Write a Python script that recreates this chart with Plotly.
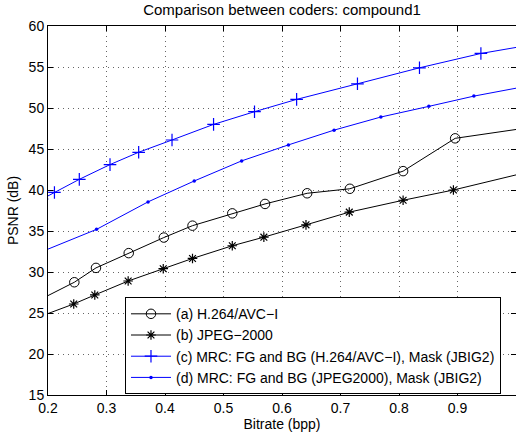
import plotly.graph_objects as go

# (a) H.264/AVC-I
x_a = [0.18, 0.245, 0.282, 0.338, 0.398, 0.447, 0.515, 0.571, 0.643, 0.716, 0.807, 0.896, 1.05]
y_a = [26.4, 28.75, 30.5, 32.3, 34.2, 35.65, 37.15, 38.3, 39.6, 40.15, 42.3, 46.3, 47.9]
# (b) JPEG-2000
x_b = [0.18, 0.244, 0.280, 0.337, 0.397, 0.447, 0.515, 0.569, 0.641, 0.715, 0.807, 0.893, 1.05]
y_b = [24.4, 26.1, 27.2, 28.9, 30.4, 31.65, 33.2, 34.25, 35.75, 37.3, 38.75, 40.0, 42.7]
# (c) MRC H.264 + JBIG2
x_c = [0.19, 0.211, 0.2535, 0.306, 0.355, 0.412, 0.483, 0.553, 0.625, 0.729, 0.835, 0.940, 1.05]
y_c = [38.9, 39.7, 41.3, 43.1, 44.6, 46.1, 48.0, 49.55, 51.05, 52.95, 54.9, 56.65, 58.0]
# (d) MRC JPEG2000 + JBIG2
x_d = [0.19, 0.283, 0.371, 0.450, 0.531, 0.611, 0.689, 0.769, 0.851, 0.928, 1.01]
y_d = [32.5, 35.2, 38.55, 41.1, 43.55, 45.5, 47.3, 48.9, 50.2, 51.45, 52.55]

names = ["(a) H.264/AVC\u2212I", "(b) JPEG\u22122000",
         "(c) MRC: FG and BG (H.264/AVC\u2212I), Mask (JBIG2)",
         "(d) MRC: FG and BG (JPEG2000), Mask (JBIG2)"]

x_ticks = [0.2, 0.3, 0.4, 0.5, 0.6, 0.7, 0.8, 0.9, 1.0]
x_ticktext = ["0.2", "0.3", "0.4", "0.5", "0.6", "0.7", "0.8", "0.9", "1"]
y_ticks = [15, 20, 25, 30, 35, 40, 45, 50, 55, 60]

FONT = "Liberation Sans, Arial, Helvetica, sans-serif"

fig = go.Figure()
fig.add_trace(go.Scatter(x=x_a, y=y_a, name=names[0], mode="lines+markers",
                         line=dict(color="black", width=1),
                         marker=dict(symbol="circle-open", size=9.5, color="black", line=dict(width=1))))
fig.add_trace(go.Scatter(x=x_b, y=y_b, name=names[1], mode="lines+markers",
                         line=dict(color="black", width=1),
                         marker=dict(symbol="asterisk-open", size=8, color="black", line=dict(width=1.2))))
fig.add_trace(go.Scatter(x=x_c, y=y_c, name=names[2], mode="lines+markers",
                         line=dict(color="#0000ff", width=1),
                         marker=dict(symbol="cross-thin-open", size=9, color="#0000ff", line=dict(width=1.2))))
fig.add_trace(go.Scatter(x=x_d, y=y_d, name=names[3], mode="lines+markers",
                         line=dict(color="#0000ff", width=1),
                         marker=dict(symbol="circle", size=3.5, color="#0000ff")))

axis_common = dict(showline=True, linecolor="black", linewidth=1, mirror="ticks",
                   ticks="inside", ticklen=5, tickcolor="black", automargin=False,
                   showgrid=True, gridcolor="#666666", gridwidth=1, griddash="1px,4px",
                   zeroline=False, tickfont=dict(size=14, color="black", family=FONT))

fig.update_xaxes(range=[0.2, 1.0], tickvals=x_ticks, ticktext=x_ticktext,
                 title=dict(text="Bitrate (bpp)", font=dict(size=14, color="black", family=FONT), standoff=2),
                 **axis_common)
fig.update_yaxes(range=[15, 60], tickvals=y_ticks,
                 title=dict(text="PSNR (dB)", font=dict(size=14, color="black", family=FONT), standoff=6),
                 **axis_common)

fig.update_layout(
    width=516, height=436,
    margin=dict(l=48, r=0, t=26, b=41, autoexpand=False),
    paper_bgcolor="white", plot_bgcolor="white",
    font=dict(family=FONT, color="black", size=14),
    title=dict(text="Comparison between coders: compound1", xref="paper", x=0.5, xanchor="center",
               yref="container", y=0.978, yanchor="middle", font=dict(size=15, color="black", family=FONT)),
    legend=dict(x=0.1645, y=0.265, xanchor="left", yanchor="top",
                bgcolor="white", bordercolor="black", borderwidth=1,
                font=dict(size=14, color="black", family=FONT),
                tracegroupgap=0, itemwidth=40),
    showlegend=True,
)

fig.write_html("out.html", config={"displayModeBar": False},
               post_script="document.body.style.margin='0';document.body.style.overflow='hidden';")
